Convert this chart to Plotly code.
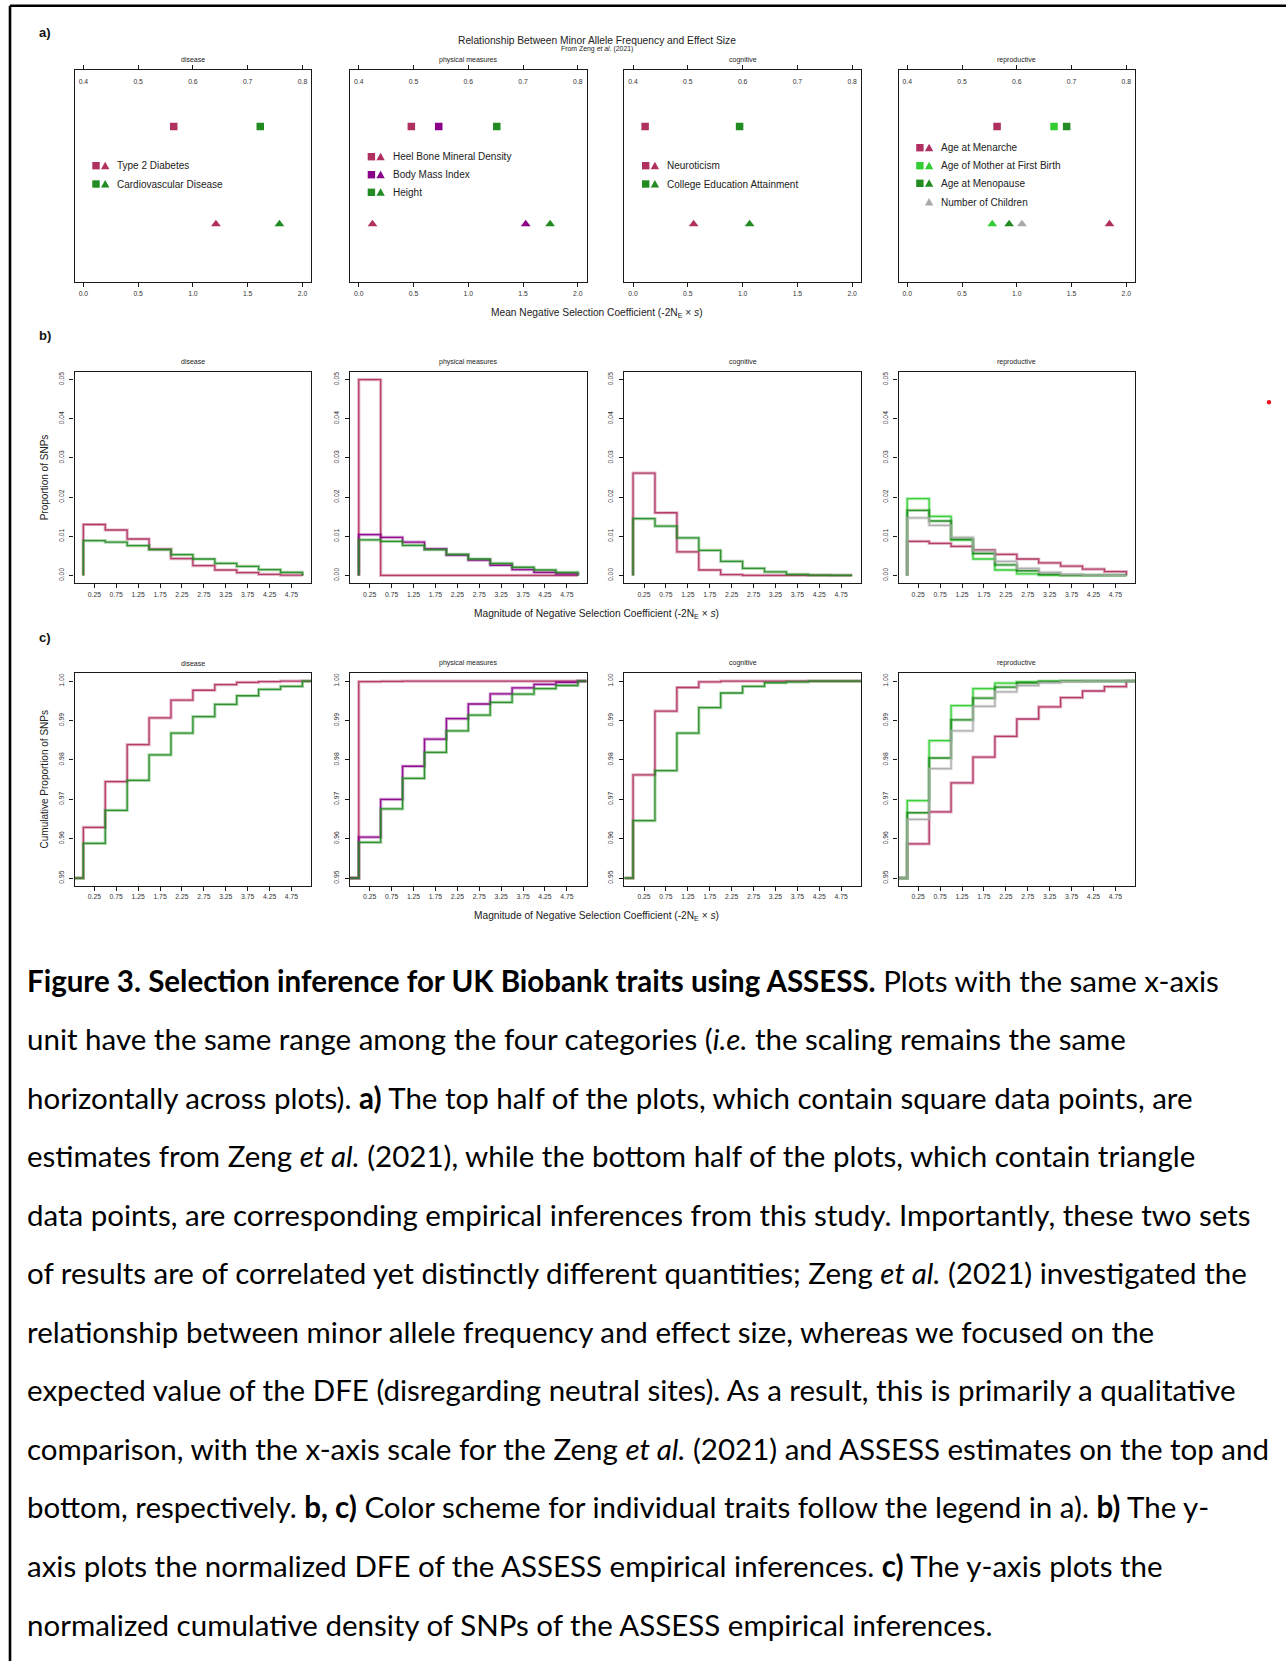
import plotly.graph_objects as go

W, H = 1286, 1661
FONT = "Liberation Sans, Arial, sans-serif"
CAP_FONT = "Lato, sans-serif"

# ---------------- data ----------------
categories = ["disease", "physical measures", "cognitive", "reproductive"]

MAROON = "#B03060"
PURPLE = "#8B008B"
FGREEN = "#228B22"
LGREEN = "#32CD32"
GRAY = "#A9A9A9"

disease_traits = ["Type 2 Diabetes", "Cardiovascular Disease"]
disease_colors = [MAROON, FGREEN]
disease_zeng_maf = [0.565, 0.723]
disease_assess_mean = [1.21, 1.79]

physical_traits = ["Heel Bone Mineral Density", "Body Mass Index", "Height"]
physical_colors = [MAROON, PURPLE, FGREEN]
physical_zeng_maf = [0.496, 0.546, 0.652]
physical_assess_mean = [0.125, 1.524, 1.747]

cognitive_traits = ["Neuroticism", "College Education Attainment"]
cognitive_colors = [MAROON, FGREEN]
cognitive_zeng_maf = [0.422, 0.5945]
cognitive_assess_mean = [0.553, 1.064]

reproductive_traits = ["Age at Menarche", "Age of Mother at First Birth",
                       "Age at Menopause", "Number of Children"]
reproductive_colors = [MAROON, LGREEN, FGREEN, GRAY]
reproductive_zeng_maf = [0.564, 0.668, 0.691, None]
reproductive_assess_mean = [1.846, 0.776, 0.930, 1.047]

# histogram bins of |2Ne*s|
bin_edges = [0.0, 0.5, 1.0, 1.5, 2.0, 2.5, 3.0, 3.5, 4.0, 4.5, 5.0]
bin_tick_vals = [0.25, 0.75, 1.25, 1.75, 2.25, 2.75, 3.25, 3.75, 4.25, 4.75]
bin_tick_text = ["0.25", "0.75", "1.25", "1.75", "2.25", "2.75", "3.25", "3.75", "4.25", "4.75"]

# b) proportion of SNPs per bin
dfe_disease = [
    [0.0130, 0.0116, 0.0093, 0.0067, 0.0043, 0.0025, 0.0014, 0.0007, 0.0003, 0.0001],
    [0.0089, 0.0085, 0.0076, 0.0066, 0.0053, 0.0042, 0.0031, 0.0023, 0.0015, 0.0008],
]
dfe_physical = [
    [0.0500, 0.0000, 0.0000, 0.0000, 0.0000, 0.0000, 0.0000, 0.0000, 0.0000, 0.0000],
    [0.0104, 0.0097, 0.0085, 0.0068, 0.0052, 0.0039, 0.0026, 0.0015, 0.0008, 0.0004],
    [0.0091, 0.0087, 0.0077, 0.0066, 0.0054, 0.0042, 0.0031, 0.0021, 0.0014, 0.0008],
]
dfe_cognitive = [
    [0.0261, 0.0160, 0.0060, 0.0014, 0.0002, 0.0000, 0.0000, 0.0000, 0.0000, 0.0000],
    [0.0145, 0.0126, 0.0096, 0.0064, 0.0036, 0.0018, 0.0009, 0.0003, 0.0001, 0.0000],
]
dfe_reproductive = [
    [0.0087, 0.0082, 0.0074, 0.0065, 0.0054, 0.0042, 0.0032, 0.0024, 0.0016, 0.0010],
    [0.0196, 0.0151, 0.0091, 0.0042, 0.0014, 0.0004, 0.0001, 0.0000, 0.0000, 0.0000],
    [0.0166, 0.0139, 0.0092, 0.0056, 0.0027, 0.0012, 0.0003, 0.0001, 0.0000, 0.0000],
    [0.0147, 0.0128, 0.0097, 0.0063, 0.0036, 0.0018, 0.0008, 0.0003, 0.0001, 0.0000],
]

# c) cumulative proportion of SNPs at each bin
cum_start = 0.95
cum_disease = [
    [0.9629, 0.9745, 0.9839, 0.9907, 0.9952, 0.9977, 0.9991, 0.9997, 0.9999, 1.0000],
    [0.9588, 0.9672, 0.9748, 0.9813, 0.9868, 0.9910, 0.9941, 0.9963, 0.9979, 0.9987],
]
cum_physical = [
    [0.9999, 0.99995, 1.0000, 1.0000, 1.0000, 1.0000, 1.0000, 1.0000, 1.0000, 1.0000],
    [0.9604, 0.9700, 0.9784, 0.9853, 0.9905, 0.9942, 0.9968, 0.9983, 0.9992, 0.9997],
    [0.9591, 0.9676, 0.9753, 0.9819, 0.9874, 0.9914, 0.9946, 0.9967, 0.9981, 0.9989],
]
cum_cognitive = [
    [0.9762, 0.9924, 0.9984, 0.9998, 1.0000, 1.0000, 1.0000, 1.0000, 1.0000, 1.0000],
    [0.9646, 0.9773, 0.9868, 0.9933, 0.9970, 0.9987, 0.9996, 0.9998, 1.0000, 1.0000],
]
cum_reproductive = [
    [0.9587, 0.9668, 0.9742, 0.9807, 0.9860, 0.9904, 0.9935, 0.9958, 0.9975, 0.9986],
    [0.9697, 0.9849, 0.9938, 0.9981, 0.9995, 0.9998, 1.0000, 1.0000, 1.0000, 1.0000],
    [0.9666, 0.9805, 0.9902, 0.9957, 0.9985, 0.9996, 0.9999, 1.0000, 1.0000, 1.0000],
    [0.9649, 0.9778, 0.9874, 0.9936, 0.9973, 0.9989, 0.9996, 0.9999, 1.0000, 1.0000],
]

maf_ticks = [0.4, 0.5, 0.6, 0.7, 0.8]
mean_ticks = [0.0, 0.5, 1.0, 1.5, 2.0]
dfe_ticks = [0.00, 0.01, 0.02, 0.03, 0.04, 0.05]
cum_ticks = [0.95, 0.96, 0.97, 0.98, 0.99, 1.00]

caption_lines = [
    "<b>Figure 3. Selection inference for UK Biobank traits using ASSESS.</b> Plots with the same x-axis",
    "unit have the same range among the four categories (<i>i.e.</i> the scaling remains the same",
    "horizontally across plots). <b>a)</b> The top half of the plots, which contain square data points, are",
    "estimates from Zeng <i>et al.</i> (2021), while the bottom half of the plots, which contain triangle",
    "data points, are corresponding empirical inferences from this study. Importantly, these two sets",
    "of results are of correlated yet distinctly different quantities; Zeng <i>et al.</i> (2021) investigated the",
    "relationship between minor allele frequency and effect size, whereas we focused on the",
    "expected value of the DFE (disregarding neutral sites). As a result, this is primarily a qualitative",
    "comparison, with the x-axis scale for the Zeng <i>et al.</i> (2021) and ASSESS estimates on the top and",
    "bottom, respectively. <b>b, c)</b> Color scheme for individual traits follow the legend in a). <b>b)</b> The y-",
    "axis plots the normalized DFE of the ASSESS empirical inferences. <b>c)</b> The y-axis plots the",
    "normalized cumulative density of SNPs of the ASSESS empirical inferences.",
]

# ---------------- layout geometry (pixels) ----------------
COL_X0 = [74.6, 350.0, 624.3, 898.5]
COL_W = 236.6
ROW_Y = [(69.7, 282.3), (371.7, 583.3), (673.3, 886.0)]
SQUARE_ROW_Y = 0.733
TRIANGLE_ROW_Y = 0.274
MARKER_Y_RANGE = [0, 1]
BIN_X_RANGE = [-0.2, 5.2]


def fx(x):
    return x / W


def fy(y):
    return 1 - y / H


fig = go.Figure()
layout = dict(
    width=W, height=H, margin=dict(l=0, r=0, t=0, b=0),
    paper_bgcolor="white", plot_bgcolor="white", showlegend=False,
    font=dict(family=FONT, color="#222"),
)

LINEC = "#1a1a1a"
TICKFONT = dict(family=FONT, size=6.8, color="#333")


def base_axis():
    return dict(showline=True, mirror=True, linecolor=LINEC, linewidth=1.3,
                showgrid=False, zeroline=False, ticks="outside", ticklen=4,
                tickwidth=1, tickcolor=LINEC, tickfont=TICKFONT, fixedrange=True)


all_traits = [disease_traits, physical_traits, cognitive_traits, reproductive_traits]
all_colors = [disease_colors, physical_colors, cognitive_colors, reproductive_colors]
all_maf = [disease_zeng_maf, physical_zeng_maf, cognitive_zeng_maf, reproductive_zeng_maf]
all_mean = [disease_assess_mean, physical_assess_mean, cognitive_assess_mean, reproductive_assess_mean]
all_dfe = [dfe_disease, dfe_physical, dfe_cognitive, dfe_reproductive]
all_cum = [cum_disease, cum_physical, cum_cognitive, cum_reproductive]

annotations = []
shapes = []

for r in range(3):
    y0, y1 = ROW_Y[r]
    for c in range(4):
        k = r * 4 + c + 1
        xa = base_axis()
        ya = base_axis()
        xa.update(domain=[fx(COL_X0[c]), fx(COL_X0[c] + COL_W)], anchor=f"y{k}")
        ya.update(domain=[fy(y1), fy(y0)], anchor=f"x{k}")
        if r == 0:
            xa.update(range=[-0.08, 2.08], tickvals=mean_ticks,
                      ticktext=[f"{v:.1f}" for v in mean_ticks])
            ya.update(range=MARKER_Y_RANGE, ticks="", showticklabels=False)
            top = dict(overlaying=f"x{k}", anchor=f"y{k}", side="top",
                       range=[0.384, 0.816], tickvals=maf_ticks,
                       ticktext=[f"{v:.1f}" for v in maf_ticks],
                       ticks="outside", ticklen=4, tickwidth=1, tickcolor=LINEC,
                       ticklabelposition="inside", ticklabelstandoff=7, tickfont=TICKFONT,
                       showline=False, showgrid=False, zeroline=False, fixedrange=True)
            layout[f"xaxis{12 + c + 1}"] = top
        elif r == 1:
            xa.update(range=BIN_X_RANGE, tickvals=bin_tick_vals, ticktext=bin_tick_text)
            ya.update(range=[-0.002, 0.052], tickvals=dfe_ticks, ticklabelstandoff=3,
                      ticktext=[f"{v:.2f}" for v in dfe_ticks], tickangle=-90)
        else:
            xa.update(range=BIN_X_RANGE, tickvals=bin_tick_vals, ticktext=bin_tick_text)
            ya.update(range=[0.948, 1.002], tickvals=cum_ticks, ticklabelstandoff=3,
                      ticktext=[f"{v:.2f}" for v in cum_ticks], tickangle=-90)
        layout[f"xaxis{k}"] = xa
        layout[f"yaxis{k}"] = ya

        # panel subtitle
        annotations.append(dict(
            x=fx(COL_X0[c] + COL_W / 2), y=fy(y0 - 10.0), xref="paper", yref="paper",
            text=categories[c], showarrow=False, xanchor="center", yanchor="middle",
            font=dict(family=FONT, size=7, color="#222")))

# ---------------- row a: markers ----------------
for c in range(4):
    k = c + 1
    traits, cols, maf, mean = all_traits[c], all_colors[c], all_maf[c], all_mean[c]
    for i in range(len(traits)):
        if maf[i] is not None:
            fig.add_trace(go.Scatter(
                x=[maf[i]], y=[SQUARE_ROW_Y], mode="markers",
                marker=dict(symbol="square", size=7.5, color=cols[i]),
                xaxis=f"x{12 + c + 1}", yaxis=f"y{k}", hoverinfo="skip", name=traits[i]))
        fig.add_trace(go.Scatter(
            x=[mean[i]], y=[TRIANGLE_ROW_Y], mode="markers",
            marker=dict(symbol="triangle-up", size=8.5, color=cols[i]),
            xaxis=f"x{k}", yaxis=f"y{k}", hoverinfo="skip", name=traits[i]))

# legends inside row a panels
legend_rows = [[165.7, 184.0], [156.7, 174.7, 192.3], [165.7, 184.0], [147.7, 165.7, 183.3, 202.0]]
for c in range(4):
    x0 = COL_X0[c]
    for i, name in enumerate(all_traits[c]):
        yy = legend_rows[c][i]
        col = all_colors[c][i]
        if all_maf[c][i] is not None:
            sx = x0 + 21.4
            shapes.append(dict(type="rect", xref="paper", yref="paper",
                               x0=fx(sx - 3.7), x1=fx(sx + 3.7), y0=fy(yy + 3.7), y1=fy(yy - 3.7),
                               fillcolor=col, line=dict(width=0)))
        tx = x0 + 30.6
        path = (f"M {fx(tx - 4.2):.6f},{fy(yy + 3.5):.6f} L {fx(tx + 4.2):.6f},{fy(yy + 3.5):.6f} "
                f"L {fx(tx):.6f},{fy(yy - 4.0):.6f} Z")
        shapes.append(dict(type="path", xref="paper", yref="paper", path=path,
                           fillcolor=col, line=dict(width=0)))
        annotations.append(dict(x=fx(x0 + 40.5), y=fy(yy), xref="paper", yref="paper",
                                text=name, showarrow=False, xanchor="left", yanchor="middle",
                                font=dict(family=FONT, size=10, color="#222")))

# ---------------- rows b, c: step lines ----------------
def add_step(xs, ys, color, k):
    fig.add_trace(go.Scatter(x=xs, y=ys, mode="lines", opacity=0.35,
                             line=dict(color=color, width=3.2, shape="hv"),
                             xaxis=f"x{k}", yaxis=f"y{k}", hoverinfo="skip"))
    fig.add_trace(go.Scatter(x=xs, y=ys, mode="lines", opacity=0.9,
                             line=dict(color=color, width=1.3, shape="hv"),
                             xaxis=f"x{k}", yaxis=f"y{k}", hoverinfo="skip"))


for c in range(4):
    for i in range(len(all_traits[c])):
        v = all_dfe[c][i]
        xs = [bin_edges[0]] + bin_edges[:-1] + [bin_edges[-1]]
        ys = [0.0] + v + [0.0]
        add_step(xs, ys, all_colors[c][i], 4 + c + 1)
        cv = all_cum[c][i]
        xs2 = [BIN_X_RANGE[0]] + bin_edges + [BIN_X_RANGE[1]]
        ys2 = [cum_start] + cv + [1.0, 1.0]
        add_step(xs2, ys2, all_colors[c][i], 8 + c + 1)

# ---------------- text ----------------
mid_x = fx(596.8)
annotations += [
    dict(x=mid_x, y=fy(40.3), text="Relationship Between Minor Allele Frequency and Effect Size",
         font=dict(family=FONT, size=10.25, color="#222")),
    dict(x=mid_x, y=fy(48.8), text="From Zeng <i>et al.</i> (2021)",
         font=dict(family=FONT, size=6.9, color="#222")),
    dict(x=mid_x, y=fy(313.3), text="Mean Negative Selection Coefficient (-2N<sub>E</sub> × <i>s</i>)",
         font=dict(family=FONT, size=10.2, color="#222")),
    dict(x=mid_x, y=fy(614.0), text="Magnitude of Negative Selection Coefficient (-2N<sub>E</sub> × <i>s</i>)",
         font=dict(family=FONT, size=10.2, color="#222")),
    dict(x=mid_x, y=fy(916.5), text="Magnitude of Negative Selection Coefficient (-2N<sub>E</sub> × <i>s</i>)",
         font=dict(family=FONT, size=10.2, color="#222")),
    dict(x=fx(44.8), y=fy((ROW_Y[1][0] + ROW_Y[1][1]) / 2), text="Proportion of SNPs", textangle=-90,
         font=dict(family=FONT, size=10, color="#222")),
    dict(x=fx(44.8), y=fy((ROW_Y[2][0] + ROW_Y[2][1]) / 2), text="Cumulative Proportion of SNPs", textangle=-90,
         font=dict(family=FONT, size=10, color="#222")),
    dict(x=fx(36.5), y=fy(33.0), text="<b>a)</b>", xanchor="left", font=dict(family=FONT, size=13, color="#111")),
    dict(x=fx(36.5), y=fy(335.5), text="<b>b)</b>", xanchor="left", font=dict(family=FONT, size=13, color="#111")),
    dict(x=fx(36.5), y=fy(637.0), text="<b>c)</b>", xanchor="left", font=dict(family=FONT, size=13, color="#111")),
]
for a in annotations:
    a.setdefault("xref", "paper")
    a.setdefault("yref", "paper")
    a.setdefault("showarrow", False)
    a.setdefault("xanchor", "center")
    a.setdefault("yanchor", "middle")

caption_y0 = 980.0
caption_step = 58.55
for i, line in enumerate(caption_lines):
    annotations.append(dict(x=fx(24.5), y=fy(caption_y0 + i * caption_step), xref="paper", yref="paper",
                            text=line, showarrow=False, xanchor="left", yanchor="middle",
                            font=dict(family=CAP_FONT, size=29.5, color="#000")))

# outer frame and stray red dot
shapes += [
    dict(type="line", xref="paper", yref="paper", x0=fx(10), x1=fx(1300), y0=fy(5.8), y1=fy(5.8),
         line=dict(color="#000", width=2.6)),
    dict(type="line", xref="paper", yref="paper", x0=fx(10), x1=fx(10), y0=fy(5.8), y1=fy(1680),
         line=dict(color="#000", width=2.6)),
    dict(type="circle", xref="paper", yref="paper", x0=fx(1266.8), x1=fx(1271.2), y0=fy(404.5), y1=fy(400.1),
         fillcolor="#E8141E", line=dict(width=0)),
]

layout["annotations"] = annotations
layout["shapes"] = shapes
fig.update_layout(**layout)
fig.write_html("out.html")
